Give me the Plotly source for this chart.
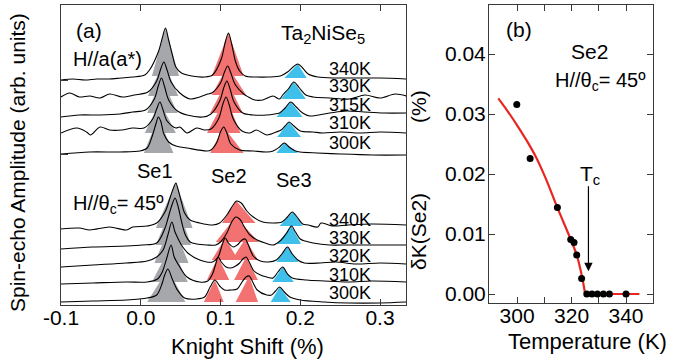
import plotly.graph_objects as go

W, H = 695, 360
FONT = "Liberation Sans, Arial, sans-serif"

# ---------------- Panel (a) data ----------------
temps_top = ["340K", "330K", "315K", "310K", "300K"]      # H//a(a*)
temps_bot = ["340K", "330K", "320K", "310K", "300K"]      # H//theta_c = 45
offsets_top = [225, 208, 189, 171, 151]
offsets_bot = [76, 58, 40, 21, 3]

# spectra: Knight shift (%) and amplitude (arb. units) above each trace's offset
t340_x = [-0.100, -0.085, -0.070, -0.055, -0.040, -0.025, -0.010, 0.005, 0.011, 0.022, 0.027, 0.031, 0.035, 0.040, 0.044, 0.051, 0.064, 0.080, 0.090, 0.101, 0.106, 0.110, 0.114, 0.119, 0.124, 0.131, 0.145, 0.160, 0.175, 0.184, 0.191, 0.197, 0.203, 0.210, 0.222, 0.245, 0.270, 0.300, 0.333]
t340_y = [0, 1, 0, 1, 1, 2, 3, 5, 10, 28, 42, 52, 40, 24, 13, 7, 4, 3, 5, 21, 38, 47, 36, 18, 9, 4, 3, 3, 4, 8, 13, 16, 12, 6, 3, 2, 2, 2, 1]

t330_x = [-0.100, -0.089, -0.077, -0.064, -0.051, -0.039, -0.023, -0.008, 0.009, 0.020, 0.025, 0.029, 0.033, 0.038, 0.049, 0.062, 0.074, 0.084, 0.089, 0.100, 0.105, 0.109, 0.113, 0.118, 0.129, 0.135, 0.143, 0.153, 0.166, 0.174, 0.178, 0.185, 0.192, 0.199, 0.207, 0.216, 0.237, 0.262, 0.281, 0.300, 0.319, 0.333]
t330_y = [0, 4, 0, 1, -1, 3, 0, 2, 5, 16, 28, 35, 27, 15, 4, -2, 0, 3, 4, 14, 25, 31, 24, 13, 3, 0, -3, -3, 1, -2, 2, 8, 15, 9, 2, 0, -1, -2, 2, -1, 3, 1]

t315_x = [-0.100, -0.077, -0.051, -0.026, -0.010, 0.006, 0.017, 0.022, 0.026, 0.030, 0.035, 0.046, 0.058, 0.078, 0.088, 0.099, 0.104, 0.108, 0.112, 0.117, 0.128, 0.141, 0.158, 0.168, 0.174, 0.181, 0.188, 0.195, 0.203, 0.212, 0.237, 0.258, 0.280, 0.305, 0.333]
t315_y = [-1, 1, 1, 2, 4, 6, 17, 30, 38, 29, 16, 5, 1, -1, 2, 15, 28, 35, 27, 14, 3, 1, 1, 2, 3, 8, 14, 9, 3, 0, 3, 5, 4, 3, 3]

t310_x = [-0.100, -0.080, -0.068, -0.063, -0.051, -0.039, -0.024, -0.010, 0.004, 0.015, 0.020, 0.024, 0.028, 0.033, 0.044, 0.049, 0.058, 0.070, 0.080, 0.088, 0.098, 0.103, 0.107, 0.111, 0.116, 0.127, 0.137, 0.145, 0.158, 0.170, 0.176, 0.181, 0.186, 0.192, 0.200, 0.216, 0.228, 0.250, 0.275, 0.300, 0.333]
t310_y = [1, 6, 2, -1, 7, 4, 4, 6, 6, 15, 25, 32, 24, 13, 6, 7, 1, 6, 4, 5, 16, 30, 37, 29, 15, 3, 1, 4, -1, 2, 4, 8, 12, 8, 3, 2, 1, 2, 1, 2, 1]

t300_x = [-0.100, -0.064, -0.026, -0.001, 0.008, 0.014, 0.019, 0.022, 0.025, 0.029, 0.035, 0.044, 0.058, 0.083, 0.088, 0.095, 0.100, 0.104, 0.108, 0.113, 0.124, 0.141, 0.158, 0.166, 0.174, 0.180, 0.186, 0.194, 0.200, 0.221, 0.250, 0.290, 0.333]
t300_y = [0, 2, 2, 3, 6, 17, 30, 37, 33, 20, 12, 8, 6, 3, 4, 11, 22, 27, 21, 10, 4, 3, 2, 3, 7, 11, 7, 3, 2, 1, 0, -1, -1]

b340_x = [-0.100, -0.077, -0.064, -0.039, -0.018, -0.010, 0.008, 0.020, 0.031, 0.037, 0.041, 0.044, 0.047, 0.051, 0.055, 0.062, 0.074, 0.090, 0.099, 0.108, 0.115, 0.120, 0.126, 0.133, 0.141, 0.153, 0.166, 0.177, 0.184, 0.190, 0.196, 0.203, 0.210, 0.222, 0.226, 0.240, 0.260, 0.290, 0.333]
b340_y = [0, 1, -1, 2, -1, 2, 3, 6, 18, 32, 41, 46, 39, 27, 16, 9, 6, 4, 6, 14, 23, 28, 26, 18, 12, 7, 6, 7, 12, 17, 12, 5, 4, 2, 6, 3, 4, 5, 4]

b330_x = [-0.100, -0.060, -0.018, 0.002, 0.020, 0.030, 0.036, 0.040, 0.043, 0.047, 0.051, 0.056, 0.062, 0.070, 0.083, 0.094, 0.100, 0.108, 0.114, 0.119, 0.124, 0.130, 0.137, 0.146, 0.156, 0.166, 0.176, 0.183, 0.189, 0.194, 0.200, 0.206, 0.216, 0.237, 0.260, 0.290, 0.333]
b330_y = [-2, 0, 1, 2, 4, 18, 34, 44, 49, 40, 26, 12, 5, 3, 2, 2, 5, 14, 25, 30, 28, 20, 12, 7, 4, 2, 7, 14, 21, 15, 8, 6, 4, 2, 2, 2, 2]

b320_x = [-0.100, -0.060, -0.018, 0.008, 0.020, 0.028, 0.034, 0.039, 0.043, 0.047, 0.051, 0.059, 0.074, 0.090, 0.097, 0.102, 0.106, 0.110, 0.116, 0.121, 0.127, 0.131, 0.135, 0.141, 0.150, 0.160, 0.170, 0.177, 0.184, 0.190, 0.197, 0.205, 0.225, 0.245, 0.270, 0.300, 0.333]
b320_y = [-2, 0, 2, 4, 8, 15, 30, 43, 33, 26, 20, 12, 5, 3, 8, 20, 27, 22, 18, 20, 25, 26, 20, 9, 4, 3, 5, 11, 18, 11, 5, 2, 2, 3, 1, 2, 1]

b310_x = [-0.100, -0.060, -0.018, 0.008, 0.021, 0.027, 0.033, 0.038, 0.042, 0.049, 0.058, 0.074, 0.084, 0.090, 0.094, 0.097, 0.101, 0.107, 0.113, 0.119, 0.124, 0.128, 0.132, 0.136, 0.142, 0.150, 0.158, 0.166, 0.172, 0.178, 0.184, 0.190, 0.208, 0.230, 0.260, 0.290, 0.333]
b310_y = [0, 1, 2, 2, 5, 12, 27, 39, 27, 17, 7, 2, 3, 10, 20, 27, 22, 17, 16, 18, 21, 25, 27, 22, 13, 9, 7, 6, 12, 17, 10, 6, 4, 3, 2, 3, 2]

b300_x = [-0.100, -0.060, -0.018, 0.008, 0.020, 0.027, 0.030, 0.034, 0.040, 0.046, 0.055, 0.070, 0.080, 0.087, 0.093, 0.099, 0.105, 0.113, 0.121, 0.127, 0.132, 0.136, 0.141, 0.146, 0.158, 0.164, 0.169, 0.174, 0.180, 0.187, 0.200, 0.230, 0.260, 0.300, 0.333]
b300_y = [0, 1, 2, 4, 7, 19, 27, 33, 22, 12, 4, 3, 5, 15, 22, 16, 12, 12, 13, 20, 25, 26, 19, 12, 7, 7, 11, 15, 10, 5, 2, 0, -1, -1, 0]

spectra_top = [(t340_x, t340_y), (t330_x, t330_y), (t315_x, t315_y), (t310_x, t310_y), (t300_x, t300_y)]
spectra_bot = [(b340_x, b340_y), (b330_x, b330_y), (b320_x, b320_y), (b310_x, b310_y), (b300_x, b300_y)]

# shaded peak areas: (left, centre, right, base level, tip) per temperature
se1_top = [(0.014, 0.031, 0.048, 4, 52), (0.009, 0.029, 0.047, 1, 35), (0.008, 0.026, 0.046, 3, 38), (0.005, 0.024, 0.044, 1, 32), (0.004, 0.022, 0.041, 1, 37)]
se2_top = [(0.089, 0.110, 0.129, 4, 47), (0.089, 0.109, 0.132, 2, 31), (0.087, 0.108, 0.128, 3, 35), (0.083, 0.107, 0.125, 1, 37), (0.087, 0.104, 0.129, 1, 27)]
se3_top = [(0.180, 0.197, 0.208, 2, 16), (0.176, 0.192, 0.207, -2, 15), (0.170, 0.188, 0.203, -1, 14), (0.171, 0.186, 0.201, -3, 12), (0.170, 0.180, 0.197, 1, 11)]
se1_bot = [(0.019, 0.044, 0.065, 1, 46), (0.019, 0.043, 0.063, 2, 49), (0.017, 0.039, 0.060, 2, 43), (0.014, 0.038, 0.059, 2, 39), (0.008, 0.034, 0.056, 0, 33)]
se2_bot = [[(0.102, 0.120, 0.144, 6, 28)], [(0.094, 0.119, 0.148, 5, 30)],
           [(0.089, 0.106, 0.122, 5, 27), (0.114, 0.131, 0.147, 5, 26)],
           [(0.083, 0.097, 0.111, 4, 27), (0.117, 0.132, 0.147, 4, 27)],
           [(0.079, 0.093, 0.104, 0, 22), (0.119, 0.136, 0.147, 0, 26)]]
se3_bot = [(0.174, 0.191, 0.203, 3, 17), (0.171, 0.189, 0.201, 3, 21), (0.170, 0.184, 0.198, 3, 18), (0.165, 0.178, 0.192, 2, 17), (0.163, 0.174, 0.188, 0, 15)]

# ---------------- Panel (b) data ----------------
T_pts = [299.9, 304.8, 314.8, 319.7, 320.9, 321.9, 323.7, 325.6, 327.5, 329.5, 331.7, 333.9, 340.0]
dK_pts = [0.0316, 0.0226, 0.0144, 0.0091, 0.0086, 0.0065, 0.0026, 0.0, 0.0, 0.0, 0.0, 0.0, 0.0]
fit_T = [293.1, 296.5, 299.9, 303.5, 307.2, 310.4, 314.8, 319.7, 321.9, 323.7, 325.0]
fit_dK = [0.0326, 0.0305, 0.0282, 0.0256, 0.0226, 0.0194, 0.0144, 0.0091, 0.0065, 0.0032, 0.0]
flat_T = [325.0, 344.9]
flat_dK = [0.0, 0.0]
Tc_arrow_T = 326.2

GREY, RED, BLUE = "#a5a7aa", "#f27271", "#3ec0ea"

fig = go.Figure()


def add_fill(box, off, color):
    xl, xc, xr, lvl, tip = box
    fig.add_trace(go.Scatter(x=[xl, xc, xr, xl], y=[off + lvl, off + tip, off + lvl, off + lvl],
                             mode="lines", fill="toself", fillcolor=color, line=dict(width=0),
                             hoverinfo="skip", showlegend=False, xaxis="x", yaxis="y"))


for i, off in enumerate(offsets_top):
    add_fill(se1_top[i], off, GREY)
    add_fill(se2_top[i], off, RED)
    add_fill(se3_top[i], off, BLUE)
for i, off in enumerate(offsets_bot):
    add_fill(se1_bot[i], off, GREY)
    for b in se2_bot[i]:
        add_fill(b, off, RED)
    add_fill(se3_bot[i], off, BLUE)

for offs, specs in ((offsets_top, spectra_top), (offsets_bot, spectra_bot)):
    for off, (xs, ys) in zip(offs, specs):
        fig.add_trace(go.Scatter(x=xs, y=[off + v for v in ys], mode="lines",
                                 line=dict(color="black", width=1.1, shape="spline", smoothing=0.9),
                                 hoverinfo="skip", showlegend=False, xaxis="x", yaxis="y"))

# panel (b)
fig.add_trace(go.Scatter(x=fit_T, y=fit_dK, mode="lines", line=dict(color="#e8261f", width=2.2, shape="spline"),
                         showlegend=False, xaxis="x2", yaxis="y2"))
fig.add_trace(go.Scatter(x=flat_T, y=flat_dK, mode="lines", line=dict(color="#e8261f", width=2.2),
                         showlegend=False, xaxis="x2", yaxis="y2"))
fig.add_trace(go.Scatter(x=T_pts, y=dK_pts, mode="markers", marker=dict(color="black", size=7),
                         showlegend=False, xaxis="x2", yaxis="y2"))


def px(x, y):
    return x / W, 1 - y / H


AX = "#3a3a3a"
tickfont = dict(family=FONT, size=21, color="black")
fig.update_layout(
    width=W, height=H, margin=dict(l=0, r=0, t=0, b=0, autoexpand=False),
    paper_bgcolor="white", plot_bgcolor="white",
    font=dict(family=FONT, color="black"),
    xaxis=dict(domain=[61 / W, 406 / W], range=[-0.1, 0.3326], showgrid=False, zeroline=False,
               showline=True, linecolor=AX, linewidth=1, mirror="ticks", ticks="inside", ticklen=6,
               tickcolor=AX, tickvals=[-0.1, 0.0, 0.1, 0.2, 0.3],
               ticktext=["-0.1", "0.0", "0.1", "0.2", "0.3"], tickfont=tickfont,
               ticklabelstandoff=-6),
    yaxis=dict(domain=[1 - 305 / H, 1 - 5 / H], range=[0, 300], showgrid=False, zeroline=False,
               showline=True, linecolor=AX, linewidth=1, mirror=True, ticks="inside", ticklen=7,
               tickcolor=AX, tickvals=[offsets_top[-1], offsets_top[0]], showticklabels=False),
    xaxis2=dict(domain=[489 / W, 653 / W], range=[289.7, 349.9], anchor="y2", showgrid=False,
                zeroline=False, showline=True, linecolor=AX, linewidth=1, mirror="ticks",
                ticks="inside", ticklen=6, tickcolor=AX, tick0=300, dtick=20,
                minor=dict(dtick=10, tick0=300, ticks="inside", ticklen=6, tickcolor=AX, showgrid=False),
                tickfont=tickfont, ticklabelstandoff=-6),
    yaxis2=dict(domain=[1 - 303 / H, 1 - 5 / H], range=[-0.0015, 0.04817], anchor="x2", showgrid=False,
                zeroline=False, showline=True, linecolor=AX, linewidth=1, mirror="ticks",
                ticks="inside", ticklen=6, tickcolor=AX, tickvals=[0, 0.01, 0.02, 0.03, 0.04],
                ticktext=["0.00", "0.01", "0.02", "0.03", "0.04"], tickfont=tickfont,
                ticklabelstandoff=-2),
)

ann = []


def text(x, y, s, size=20, xanchor="center", angle=0):
    X, Y = px(x, y)
    ann.append(dict(x=X, y=Y, xref="paper", yref="paper", text=s, showarrow=False, xanchor=xanchor,
                    yanchor="middle", textangle=angle, font=dict(family=FONT, size=size, color="black")))


# panel (a) labels
text(89, 30, "(a)", 21)
text(108, 59, "H//a(a*)", 20)
text(323, 34, "Ta<sub>2</sub>NiSe<sub>5</sub>", 21)
text(155, 171, "Se1", 20)
text(229, 176, "Se2", 20)
text(294, 180, "Se3", 20)
text(118, 204, "H//θ<sub>c</sub>= 45º", 20)
text(247, 346, "Knight Shift (%)", 22)
text(18, 163, "Spin-echo Amplitude (arb. units)", 21, angle=-90)
for lab, off in zip(temps_top, offsets_top):
    ann.append(dict(x=0.2335, y=off + 11, xref="x", yref="y", text=lab, showarrow=False, xanchor="left",
                    yanchor="middle", font=dict(family=FONT, size=18, color="black")))
for lab, off in zip(temps_bot, offsets_bot):
    ann.append(dict(x=0.2335, y=off + 9, xref="x", yref="y", text=lab, showarrow=False, xanchor="left",
                    yanchor="middle", font=dict(family=FONT, size=18, color="black")))

# panel (b) labels
text(519, 29, "(b)", 21)
text(589, 52, "Se2", 21)
text(600, 82, "H//θ<sub>c</sub>= 45º", 20)
text(590, 175, "T<sub>c</sub>", 21)
text(587, 341, "Temperature (K)", 22)
text(418, 232, "δK(Se2)", 21, angle=-90)
text(418, 107, "(%)", 21, angle=-90)
ann.append(dict(x=Tc_arrow_T, y=0.0038, xref="x2", yref="y2", ax=Tc_arrow_T, ay=0.0182,
                axref="x2", ayref="y2", text="", showarrow=True, arrowhead=2, arrowsize=1.4,
                arrowwidth=1.2, arrowcolor="black"))

fig.update_layout(annotations=ann)
fig.write_html("out.html", post_script="document.body.style.margin='0px';document.body.style.padding='0px';")
